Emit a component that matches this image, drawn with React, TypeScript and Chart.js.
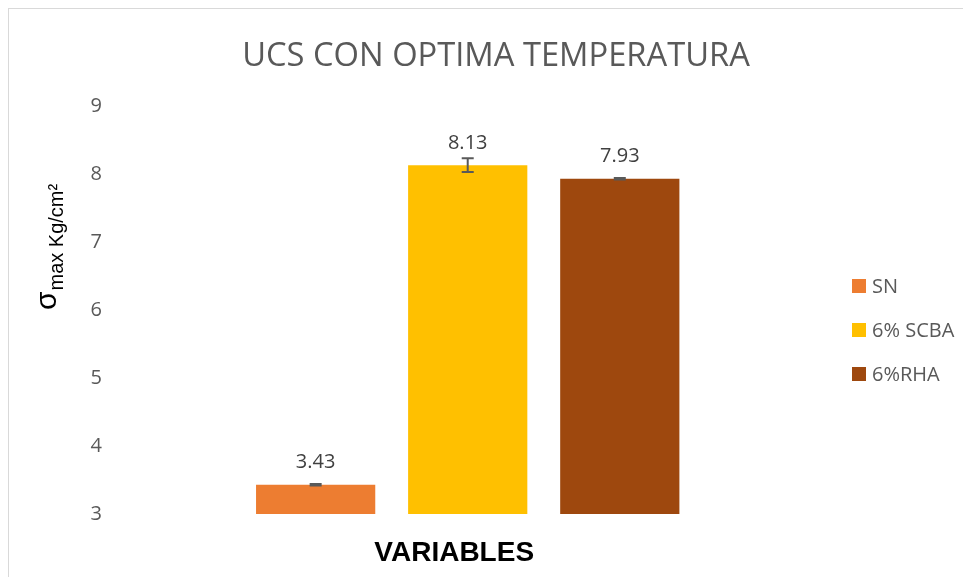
import React, { useEffect, useRef } from "react";
import { Chart, registerables } from "chart.js";

Chart.register(...registerables);

const categories = [""];
const seriesNames = ["SN", "6% SCBA", "6%RHA"];
const seriesValues = [3.43, 8.13, 7.93];
const seriesErrors = [0.01, 0.1, 0.01];
const seriesColors = ["#ED7D31", "#FFC000", "#9E480E"];
const yTickValues = [3, 4, 5, 6, 7, 8, 9];
const chartTitle = "UCS CON OPTIMA TEMPERATURA";
const xAxisTitle = "VARIABLES";
const yAxisSymbol = "σ";
const yAxisSub = "max Kg/cm²";

const OPEN = "'Open Sans', sans-serif";
const ARIAL = "'Liberation Sans', Arial, sans-serif";

const overlay = {
  id: "overlay",
  afterDatasetsDraw(chart: any) {
    const ctx = chart.ctx as CanvasRenderingContext2D;
    const ys = chart.scales.y;
    const area = chart.chartArea;
    ctx.save();

    // title
    ctx.fillStyle = "#595959";
    ctx.font = `32.7px ${OPEN}`;
    ctx.textAlign = "center";
    ctx.textBaseline = "alphabetic";
    ctx.fillText(chartTitle, 487, 57);

    chart.data.datasets.forEach((_ds: any, i: number) => {
      const meta = chart.getDatasetMeta(i);
      const bar = meta.data[0];
      if (!bar) return;
      const v = seriesValues[i];
      const e = seriesErrors[i];
      const x = bar.x;
      const yTop = ys.getPixelForValue(v + e);
      const yBot = ys.getPixelForValue(v - e);
      ctx.strokeStyle = "#595959";
      ctx.lineWidth = 2;
      ctx.beginPath();
      ctx.moveTo(x, yTop);
      ctx.lineTo(x, yBot);
      ctx.moveTo(x - 6, yTop);
      ctx.lineTo(x + 6, yTop);
      ctx.moveTo(x - 6, yBot);
      ctx.lineTo(x + 6, yBot);
      ctx.stroke();
      ctx.fillStyle = "#404040";
      ctx.font = `20px ${OPEN}`;
      ctx.textAlign = "center";
      ctx.textBaseline = "middle";
      ctx.fillText(v.toFixed(2), x, bar.y - 22);
    });

    // legend
    const midY = (area.top + area.bottom) / 2 + 20;
    const lx = area.right + 22.5;
    seriesNames.forEach((name, i) => {
      const cy = midY + (i - 1) * 44;
      ctx.fillStyle = seriesColors[i];
      ctx.fillRect(lx, cy - 7, 14, 14);
      ctx.fillStyle = "#595959";
      ctx.font = `20px ${OPEN}`;
      ctx.textAlign = "left";
      ctx.textBaseline = "middle";
      ctx.fillText(name, lx + 20, cy + 1);
    });

    // y axis title
    ctx.save();
    ctx.translate(area.left - 50, area.bottom - 204);
    ctx.rotate(-Math.PI / 2);
    ctx.fillStyle = "#000000";
    ctx.textAlign = "left";
    ctx.textBaseline = "alphabetic";
    ctx.font = `30px ${ARIAL}`;
    ctx.fillText(yAxisSymbol, 0, 0);
    const w = ctx.measureText(yAxisSymbol).width;
    ctx.font = `20px ${ARIAL}`;
    ctx.fillText(yAxisSub, w + 1, 7);
    ctx.restore();

    // x axis title
    ctx.fillStyle = "#000000";
    ctx.font = `bold 28px ${ARIAL}`;
    ctx.textAlign = "center";
    ctx.textBaseline = "middle";
    ctx.fillText(xAxisTitle, (area.left + area.right) / 2 - 13.5, area.bottom + 39);
    ctx.restore();
  },
};

export default function App() {
  const ref = useRef<HTMLCanvasElement | null>(null);
  useEffect(() => {
    document.documentElement.style.overflow = "hidden";
    document.body.style.overflow = "hidden";
    const canvas = ref.current;
    if (!canvas) return;
    const chart = new Chart(canvas, {
      type: "bar",
      data: {
        labels: categories,
        datasets: seriesNames.map((name, i) => ({
          label: name,
          data: [seriesValues[i]],
          backgroundColor: seriesColors[i],
          borderWidth: 0,
          barPercentage: 0.784,
          categoryPercentage: 0.6305,
        })),
      },
      options: {
        responsive: false,
        animation: false,
        layout: { padding: { left: 77.5, right: 141.5, top: 97, bottom: 63 } },
        plugins: {
          legend: { display: false },
          tooltip: { enabled: false },
          title: { display: false },
        },
        scales: {
          x: {
            grid: { display: false, drawTicks: false },
            border: { display: false },
            ticks: { display: false },
          },
          y: {
            min: 3,
            max: 9,
            grid: { display: false, drawTicks: false },
            border: { display: false },
            afterBuildTicks: (axis: any) => {
              axis.ticks = yTickValues.map((v) => ({ value: v }));
            },
            ticks: {
              color: "#595959",
              font: { family: OPEN, size: 20 },
              padding: 4,
            },
          },
        },
      },
      plugins: [overlay],
    });
    return () => chart.destroy();
  }, []);
  return (
    <div
      style={{
        width: 963,
        height: 569,
        borderLeft: "1px solid #d9d9d9",
        borderTop: "1px solid #d9d9d9",
        boxSizing: "border-box",
        background: "#ffffff",
      }}
    >
      <canvas ref={ref} width={962} height={568} style={{ display: "block" }} />
    </div>
  );
}
